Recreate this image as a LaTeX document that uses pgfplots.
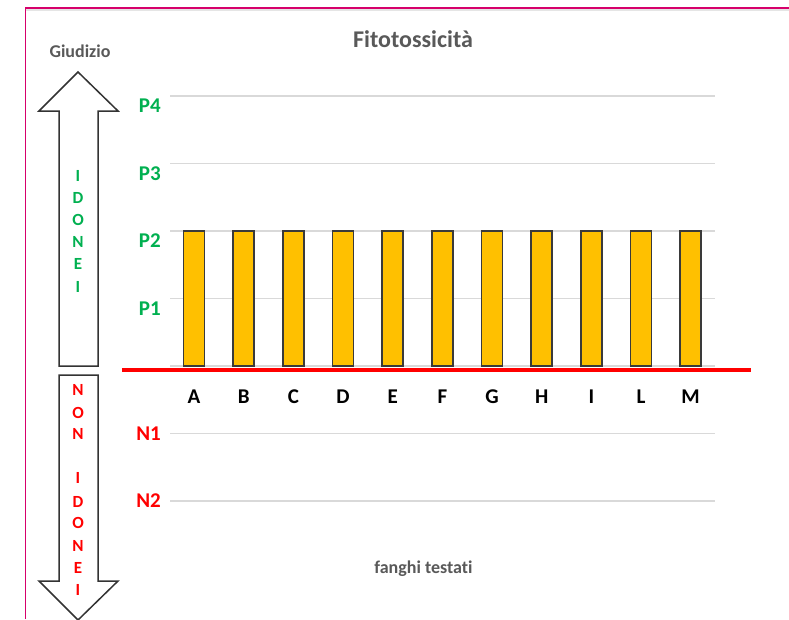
\documentclass[border=0pt]{standalone}
\usepackage{pgfplots}
\pgfplotsset{compat=1.18}
\usepackage{fontspec}
\setmainfont{Carlito}[Ligatures={NoCommon}]
\definecolor{barfill}{HTML}{FFC000}
\definecolor{baredge}{HTML}{3A3A3A}
\definecolor{okgreen}{HTML}{00B050}
\definecolor{txtgray}{HTML}{595959}
\definecolor{gridgray}{HTML}{D9D9D9}
\definecolor{framecol}{HTML}{D6006B}
\begin{document}
\begin{tikzpicture}
\useasboundingbox (0pt,0pt) rectangle (789pt,-619pt);
\fill[white] (0pt,0pt) rectangle (789pt,-619pt);
% frame
\draw[gray!20, line width=2pt] (26pt,-10pt) -- (789pt,-10pt);
\draw[framecol, line width=1.2pt] (25.5pt,-619pt) -- (25.5pt,-8pt) -- (789pt,-8pt);
\begin{axis}[
  at={(170pt,-501pt)}, anchor=south west,
  scale only axis, width=545pt, height=405pt,
  xmin=-0.483, xmax=10.49, ymin=-2, ymax=4,
  clip=false,
  axis line style={draw=none},
  major tick length=0pt,
  tick label style={font=\fontsize{21}{21}\selectfont\bfseries},
  xtick={0,1,2,3,4,5,6,7,8,9,10},
  xticklabels={A,B,C,D,E,F,G,H,I,L,M},
  xticklabel style={anchor=north, inner sep=0pt, yshift=111pt, text=black},
  ytick={-2,-1,0},
  yticklabels={N2,N1,{}},
  yticklabel style={anchor=east, inner sep=0pt, xshift=-9pt, text=red},
  extra y ticks={1,2,3,4},
  extra y tick labels={P1,P2,P3,P4},
  extra y tick style={ymajorgrids=true, yticklabel style={text=okgreen, yshift=-10pt}},
  ymajorgrids=true,
  major grid style={gridgray, line width=1.5pt},
]
\addplot[ybar, bar width=21pt, fill=barfill, draw=baredge, line width=1.5pt]
  coordinates {(0,2) (1,2) (2,2) (3,2) (4,2) (5,2) (6,2) (7,2) (8,2) (9,2) (10,2)};
\draw[red, line width=4pt] (axis cs:-1.45,-0.059) -- (axis cs:11.22,-0.059);
\end{axis}
% titles
\node[anchor=base, font=\fontsize{24}{24}\selectfont\bfseries, text=txtgray] at (413pt,-47pt) {Fitotossicità};
\node[anchor=base, font=\fontsize{18}{18}\selectfont\bfseries, text=txtgray] at (80pt,-57pt) {Giudizio};
\node[anchor=base, font=\fontsize{18}{18}\selectfont\bfseries, text=txtgray] at (423.5pt,-573pt) {fanghi testati};
% arrows
\draw[black!80, line width=1.5pt, fill=white] (78pt,-72pt) -- (118pt,-111pt) -- (98pt,-111pt) -- (98pt,-366pt) -- (59pt,-366pt) -- (59pt,-111pt) -- (39pt,-111pt) -- cycle;
\draw[black!80, line width=1.5pt, fill=white] (59pt,-375pt) -- (98pt,-375pt) -- (98pt,-581pt) -- (118pt,-581pt) -- (78pt,-620pt) -- (39pt,-581pt) -- (59pt,-581pt) -- cycle;
\foreach \l/\y in {I/181, D/203, O/225, N/247, E/269, I/292}
  \node[anchor=base, inner sep=0pt, font=\fontsize{17}{17}\selectfont\bfseries, text=okgreen] at (78pt,-\y pt) {\l};
\foreach \l/\y in {N/395, O/418, N/439, I/483, D/507, O/528, N/551, E/573, I/595}
  \node[anchor=base, inner sep=0pt, font=\fontsize{17}{17}\selectfont\bfseries, text=red] at (78pt,-\y pt) {\l};
\end{tikzpicture}
\end{document}
